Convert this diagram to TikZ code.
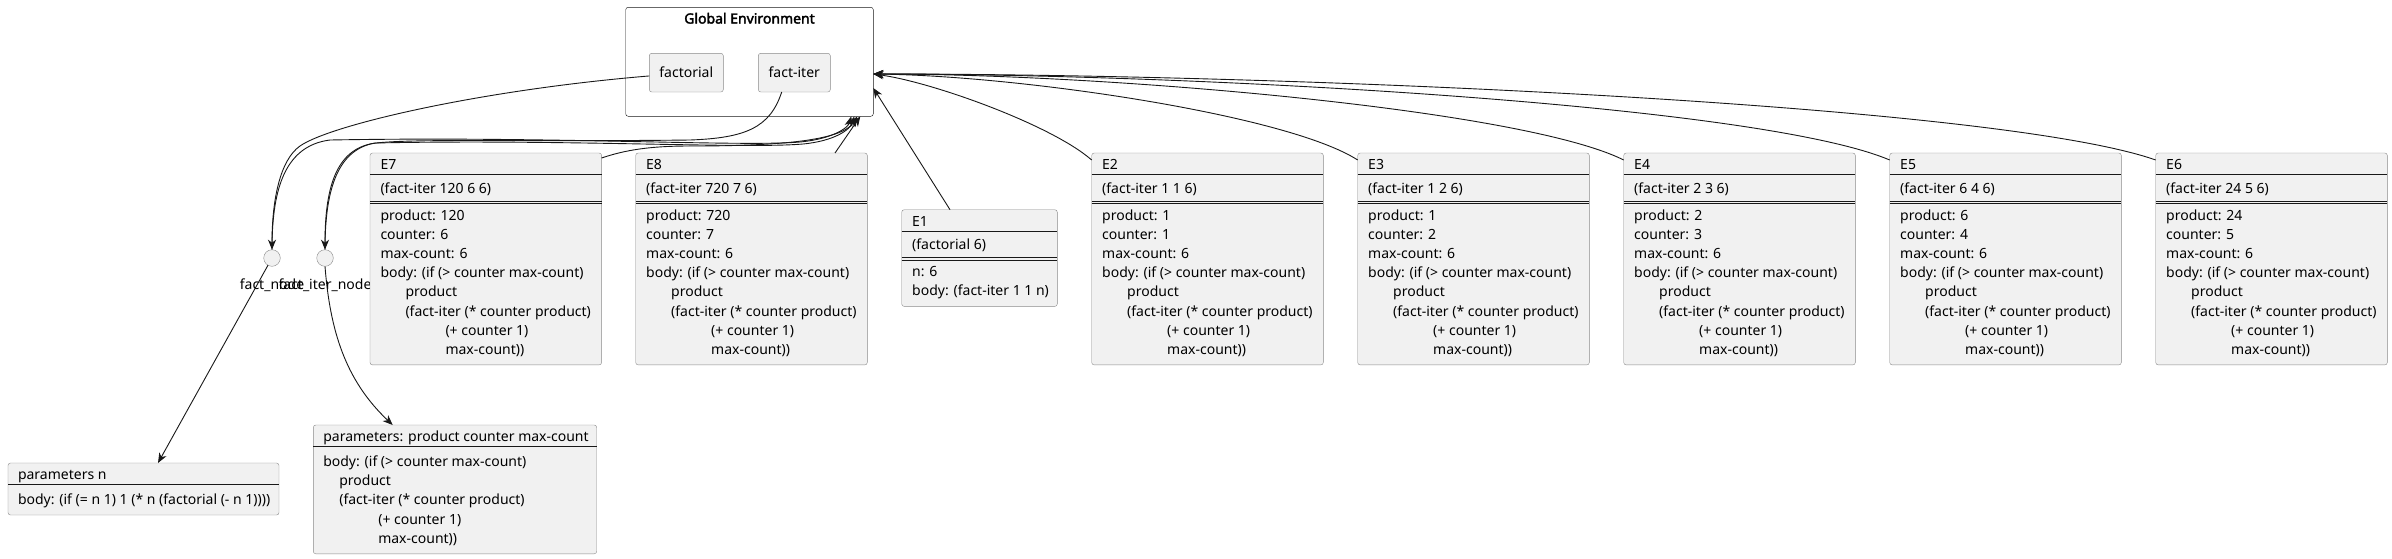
\documentclass[tikz,border=0pt]{standalone}
\usepackage{fontspec}
\setmainfont{Noto Sans}
\newfontfamily\titlefont{Noto Sans}[FakeBold=2.5]
\usetikzlibrary{arrows.meta}
\definecolor{boxfill}{HTML}{F1F1F1}
\definecolor{boxline}{HTML}{8A8A8A}
\definecolor{ink}{HTML}{181818}
\tikzset{
  envbox/.style={
    shape = rectangle,
    draw = boxline,
    fill = boxfill,
    rounded corners = 2.5pt,
    inner sep = 0pt,
    outer sep = 0pt
  },
  globalbox/.style={
    envbox,
    draw = ink,
    fill = white
  },
  slot/.style={
    envbox,
    font = \fontsize{14}{19.2}\selectfont
  },
  dot/.style={
    shape = circle,
    draw = boxline,
    fill = boxfill,
    minimum size = 16.6pt,
    inner sep = 0pt,
    outer sep = 0pt
  },
  divider/.style={
    draw = ink,
    line width = 1pt
  },
  txt/.style={
    font = \fontsize{14}{19.2}\selectfont,
    inner sep = 0pt,
    outer sep = 0pt
  },
  bodytxt/.style={
    txt,
    align = left
  },
  link/.style={
    draw = ink,
    line width = 0.9pt,
    -{Stealth[length=10pt,width=8pt,inset=3pt]}
  }
}
% name, left, top, width, body lines, title, call, body
\newcommand\EnvFrame[8]{%
  \node[envbox, anchor=north west, minimum width=#4pt, minimum height=58.3pt+19.2pt*#5] (#1) at (#2,#3) {};
  \node[txt, anchor=base west] (#1-title) at ([xshift=10.5pt,yshift=-16.5pt]#1.north west) {#6};
  \draw[divider] ([yshift=-21.5pt]#1.north west) -- ([yshift=-21.5pt]#1.north east);
  \node[txt, anchor=base west] (#1-call) at ([xshift=10.5pt,yshift=-40pt]#1.north west) {#7};
  \draw[divider] ([yshift=-48pt]#1.north west) -- ([yshift=-48pt]#1.north east);
  \draw[divider] ([yshift=-50.7pt]#1.north west) -- ([yshift=-50.7pt]#1.north east);
  \node[bodytxt, anchor=north west] (#1-body) at ([xshift=10.5pt,yshift=-53.56pt]#1.north west) {\strut #8};
}
% name, left, top, width, body lines, header, body
\newcommand\ParamFrame[7]{%
  \node[envbox, anchor=north west, minimum width=#4pt, minimum height=32.8pt+19.2pt*#5] (#1) at (#2,#3) {};
  \node[txt, anchor=base west] (#1-head) at ([xshift=10pt,yshift=-16.5pt]#1.north west) {#6};
  \draw[divider] ([yshift=-21pt]#1.north west) -- ([yshift=-21pt]#1.north east);
  \node[bodytxt, anchor=north west] (#1-body) at ([xshift=10pt,yshift=-28.06pt]#1.north west) {\strut #7};
}
\newcommand\IterBody{body: (if (> counter max-count)\\%
\hspace*{25pt}product\\%
\hspace*{25pt}(fact-iter (* counter product)\\%
\hspace*{65pt}(+ counter 1)\\%
\hspace*{65pt}max-count))}

\begin{document}
\begin{tikzpicture}[x=1pt, y=-1pt]
    \useasboundingbox (0,0) rectangle (2392,558);

    % global environment
    \node[globalbox, anchor=north west, minimum width=247.6pt, minimum height=109pt] (global) at (625.7,7.3) {};
    \node[txt, font=\titlefont\fontsize{14}{19.2}\selectfont, anchor=base] (global-title) at ([yshift=-16.2pt]global.north) {Global Environment};
    \node[slot, minimum width=74pt, minimum height=38.7pt] (factorial) at (686.3,72.65) {factorial};
    \node[slot, minimum width=72pt, minimum height=38.7pt] (factiter) at (794.3,72.65) {fact-iter};

    % procedure objects
    \node[dot] (factnode) at (272,258) {};
    \node[txt, anchor=base] (factnode-label) at ([yshift=-31.3pt]factnode.center) {fact\_node};
    \node[dot] (factiternode) at (325,258) {};
    \node[txt, anchor=base] (factiternode-label) at ([yshift=-31.3pt]factiternode.center) {fact\_iter\_node};

    \ParamFrame{paramsn}{8}{463}{271}{1}{parameters n}{body: (if (= n 1) 1 (* n (factorial (- n 1))))}
    \ParamFrame{paramspc}{313.3}{425}{283.4}{5}{parameters: product counter max-count}{body: (if (> counter max-count)\\\hspace*{16pt}product\\\hspace*{16pt}(fact-iter (* counter product)\\\hspace*{55pt}(+ counter 1)\\\hspace*{55pt}max-count))}

    % frames
    \EnvFrame{E7}{370}{153}{231.6}{8}{E7}{(fact-iter 120 6 6)}{product: 120\\counter: 6\\max-count: 6\\\IterBody}
    \EnvFrame{E8}{635.7}{153}{231.6}{8}{E8}{(fact-iter 720 7 6)}{product: 720\\counter: 7\\max-count: 6\\\IterBody}
    \EnvFrame{E1}{901.7}{209.7}{155.6}{2}{E1}{(factorial 6)}{n: 6\\body: (fact-iter 1 1 n)}
    \EnvFrame{E2}{1091.7}{153}{231.6}{8}{E2}{(fact-iter 1 1 6)}{product: 1\\counter: 1\\max-count: 6\\\IterBody}
    \EnvFrame{E3}{1357.7}{153}{231.6}{8}{E3}{(fact-iter 1 2 6)}{product: 1\\counter: 2\\max-count: 6\\\IterBody}
    \EnvFrame{E4}{1623.7}{153}{231.6}{8}{E4}{(fact-iter 2 3 6)}{product: 2\\counter: 3\\max-count: 6\\\IterBody}
    \EnvFrame{E5}{1889.7}{153}{231.6}{8}{E5}{(fact-iter 6 4 6)}{product: 6\\counter: 4\\max-count: 6\\\IterBody}
    \EnvFrame{E6}{2155.7}{153}{231.6}{8}{E6}{(fact-iter 24 5 6)}{product: 24\\counter: 5\\max-count: 6\\\IterBody}

    % bindings
    \draw[link] ([yshift=-3.3pt]factorial.west) .. controls (480,90) and (330,125) .. (300,146) .. controls (280,160) and (272,200) .. (factnode.north);
    \draw[link] ([xshift=-12.6pt]factiter.south) .. controls (770,128) and (745,138) .. (690,140) .. controls (520,142) and (400,138) .. (370,144) .. controls (335,152) and (325,190) .. (factiternode.north);
    \draw[link] (factnode.north) .. controls (272,195) and (282,146) .. (330,140) .. controls (550,136) and (740,147) .. (800,142) .. controls (832,139) and (848,128) .. ([xshift=-22pt]global.south east);
    \draw[link] (factiternode.north) .. controls (325,195) and (335,150) .. (375,143) .. controls (560,139) and (745,149) .. (803,144) .. controls (834,141) and (850,130) .. ([xshift=-19pt]global.south east);
    \draw[link] (factnode) -- ([xshift=150pt]paramsn.north west);
    \draw[link] (factiternode.south) .. controls (330,330) and (345,380) .. ([xshift=79.4pt]paramspc.north west);

    % enclosing environment
    \draw[link] ([yshift=-5pt]E7.north east) .. controls (625,150) and (650,146) .. (690,146) .. controls (770,146) and (842,142) .. ([xshift=-16pt]global.south east);
    \draw[link] ([xshift=199.3pt]E8.north west) -- ([xshift=-13pt]global.south east);
    \draw[link] ([xshift=48.3pt]E1.north west) -- ([yshift=-26.2pt]global.east);
    \draw[link] ([yshift=-7pt]E2.north west) .. controls +(-40,-35) and +(59,8) .. ([yshift=-12.2pt]global.east);
    \draw[link] ([yshift=-7pt]E3.north west) .. controls +(-70,-45) and +(150,2) .. ([yshift=-12.2pt]global.east);
    \draw[link] ([yshift=-7pt]E4.north west) .. controls +(-100,-50) and +(240,0) .. ([yshift=-12.2pt]global.east);
    \draw[link] ([yshift=-7pt]E5.north west) .. controls +(-130,-55) and +(330,0) .. ([yshift=-12.2pt]global.east);
    \draw[link] ([yshift=-7pt]E6.north west) .. controls +(-156,-55) and +(427,0) .. ([yshift=-12.2pt]global.east);
\end{tikzpicture}
\end{document}
